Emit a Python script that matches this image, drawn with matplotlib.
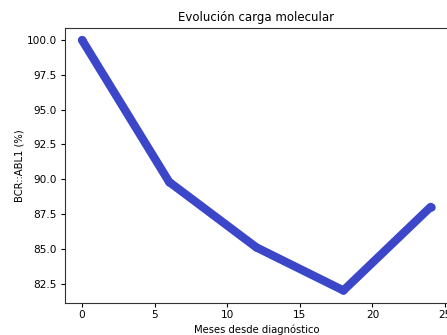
import matplotlib
matplotlib.use("Agg")
import matplotlib.pyplot as plt

# Datos
meses = [0, 6, 12, 18, 24]
bcr_abl1 = [100.0, 89.8, 85.1, 82.0, 88.0]

fig = plt.figure(figsize=(4.47, 3.35), dpi=100)
ax = fig.add_axes([64.6 / 447, 1 - 303 / 335, (448 - 64.6) / 447, (303 - 27.5) / 335])

ax.plot(meses, bcr_abl1, color="#3c46c8", linewidth=6, marker="o", markersize=5,
        solid_capstyle="round", solid_joinstyle="round")
ax.set_title("Evolución carga molecular", fontsize=8.5, pad=5.0)
ax.set_xlabel("Meses desde diagnóstico", fontsize=7.2, labelpad=3.0)
ax.set_ylabel("BCR::ABL1 (%)", fontsize=7.2, labelpad=2.0)
ax.tick_params(labelsize=7.6, length=2.7, pad=2.7)
for s in ax.spines.values():
    s.set_linewidth(0.8)
    s.set_color("#333333")

fig.savefig("out.png", dpi=100)
